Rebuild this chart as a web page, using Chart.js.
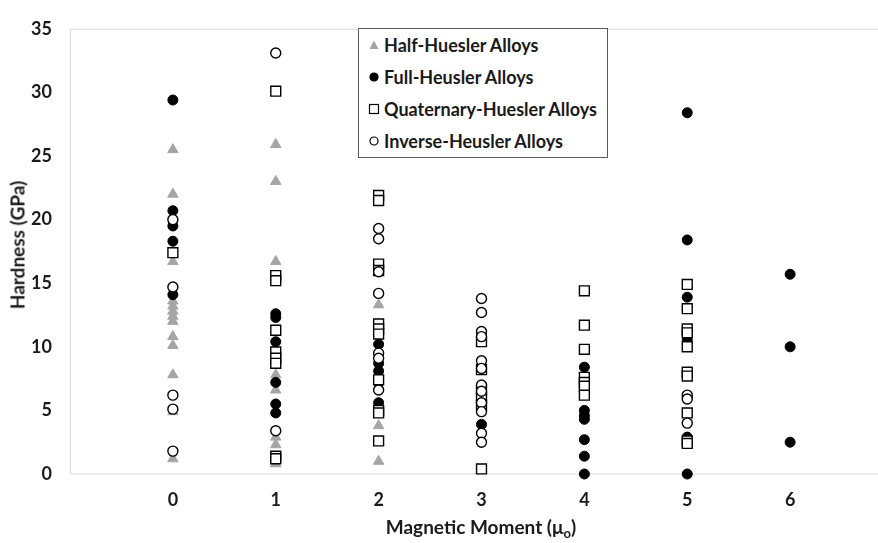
<!DOCTYPE html>
<html>
<head>
<meta charset="utf-8">
<script src="https://cdn.jsdelivr.net/npm/chart.js@4/dist/chart.umd.min.js"></script>
<style>
  html, body { margin: 0; padding: 0; background: #fff; overflow: hidden; }
  #wrap { position: relative; width: 878px; height: 543px; overflow: hidden; }
  #chart { position: absolute; left: 0; top: 0; }
  .lbl { font-family: Lato, "Open Sans", sans-serif; font-weight: 700; color: #1a1a1a; white-space: nowrap; }
  #xtitle { position: absolute; left: 0; width: 962px; top: 515px; text-align: center; font-size: 19px; }
  #xtitle sub { font-size: 13px; vertical-align: -4px; line-height: 0; }
  #ytitle { position: absolute; left: 17px; top: 245px; transform: translate(-50%, -50%) rotate(-90deg); font-size: 19px; }
  #legend { position: absolute; left: 358px; top: 28px; background: #fff; border: 1px solid #595959;
            padding: 0 10px 0 9px; font-size: 18px; }
  #legend .row { height: 32px; display: flex; align-items: center; }
  #legend svg { margin-right: 4px; flex: none; }
</style>
</head>
<body>
<div id="wrap">
  <canvas id="chart" width="910" height="543"></canvas>
  <div id="ytitle" class="lbl"></div>
  <div id="xtitle" class="lbl"></div>
  <div id="legend" class="lbl"></div>
</div>
<script>
// Hardness (GPa) against magnetic moment, one [moment, hardness] pair per alloy
const halfHeusler = [
  [0, 25.5], [0, 22.0], [0, 16.7], [0, 13.6], [0, 13.2], [0, 12.8], [0, 12.4], [0, 12.0],
  [0, 10.8], [0, 10.1], [0, 7.8], [0, 4.9], [0, 1.2],
  [1, 25.9], [1, 23.0], [1, 16.7], [1, 7.8], [1, 6.6], [1, 2.9], [1, 2.3], [1, 0.8],
  [2, 13.3], [2, 5.3], [2, 3.8], [2, 1.0]
];
const fullHeusler = [
  [0, 29.4], [0, 20.7], [0, 19.5], [0, 18.3], [0, 14.1],
  [1, 12.6], [1, 12.3], [1, 10.4], [1, 7.2], [1, 5.5], [1, 4.8],
  [2, 10.2], [2, 8.7], [2, 8.1], [2, 7.2], [2, 5.6],
  [3, 6.4], [3, 3.9],
  [4, 8.4], [4, 5.0], [4, 4.6], [4, 4.3], [4, 2.7], [4, 1.4], [4, 0.0],
  [5, 28.4], [5, 18.4], [5, 13.9], [5, 10.9], [5, 10.5], [5, 6.0], [5, 2.9], [5, 0.0],
  [6, 15.7], [6, 10.0], [6, 2.5]
];
const quaternaryHeusler = [
  [0, 17.4],
  [1, 30.1], [1, 15.6], [1, 15.2], [1, 11.3], [1, 9.6], [1, 9.1], [1, 8.7], [1, 1.4], [1, 1.2],
  [2, 21.9], [2, 21.5], [2, 16.5], [2, 16.0], [2, 11.8], [2, 11.4], [2, 11.0], [2, 7.4], [2, 5.0], [2, 4.8], [2, 2.6],
  [3, 10.4], [3, 8.2], [3, 6.6], [3, 6.0], [3, 5.4], [3, 0.4],
  [4, 14.4], [4, 11.7], [4, 9.8], [4, 7.6], [4, 7.2], [4, 6.9], [4, 6.2],
  [5, 14.9], [5, 13.0], [5, 11.4], [5, 11.1], [5, 10.0], [5, 8.0], [5, 7.7], [5, 4.8], [5, 2.6], [5, 2.4]
];
const inverseHeusler = [
  [0, 20.0], [0, 14.7], [0, 6.2], [0, 5.1], [0, 1.8],
  [1, 33.1], [1, 3.4],
  [2, 19.3], [2, 18.5], [2, 15.9], [2, 14.2], [2, 9.5], [2, 9.1], [2, 6.6],
  [3, 13.8], [3, 12.7], [3, 11.2], [3, 10.8], [3, 8.9], [3, 8.3], [3, 7.0], [3, 6.5], [3, 5.6], [3, 4.9], [3, 3.2], [3, 2.5],
  [5, 6.2], [5, 5.9], [5, 4.0]
];

const seriesNames = ['Half-Huesler Alloys', 'Full-Heusler Alloys', 'Quaternary-Huesler Alloys', 'Inverse-Heusler Alloys'];
const momentTicks = [0, 1, 2, 3, 4, 5, 6];
const hardnessTicks = [0, 5, 10, 15, 20, 25, 30, 35];

const FONT = { family: 'Lato, "Open Sans", sans-serif', weight: 'bold', size: 18 };
const TEXT = '#1a1a1a';

// Marker look for each series, in the same order as seriesNames
const markers = [
  { shape: 'triangle', radius: 6, fill: '#a5a5a5', stroke: '#a5a5a5', width: 1 },
  { shape: 'circle', radius: 5, fill: '#000000', stroke: '#000000', width: 1 },
  { shape: 'rect', radius: 7, fill: '#ffffff', stroke: '#000000', width: 1.4 },
  { shape: 'circle', radius: 5, fill: '#ffffff', stroke: '#000000', width: 1.4 }
];
const seriesData = [halfHeusler, fullHeusler, quaternaryHeusler, inverseHeusler];

const datasets = seriesData.map((pairs, i) => ({
  label: seriesNames[i],
  data: pairs.map(p => ({ x: p[0], y: p[1] })),
  pointStyle: markers[i].shape,
  pointRadius: markers[i].radius,
  pointBackgroundColor: markers[i].fill,
  pointBorderColor: markers[i].stroke,
  pointBorderWidth: markers[i].width,
  showLine: false,
  clip: false,
  order: seriesData.length - i   // later series are painted on top
}));

// light frame round the plotting area
const frame = {
  id: 'frame',
  beforeDatasetsDraw(chart) {
    const a = chart.chartArea, c = chart.ctx;
    c.save();
    c.strokeStyle = '#d9d9d9';
    c.lineWidth = 1;
    c.strokeRect(a.left + 0.5, a.top + 0.5, a.right - a.left, a.bottom - a.top - 0.5);
    c.restore();
  }
};

new Chart(document.getElementById('chart'), {
  type: 'scatter',
  data: { datasets },
  options: {
    responsive: false,
    animation: false,
    events: [],
    layout: { padding: { top: 17, right: 17, left: 0, bottom: 0 } },
    plugins: { legend: { display: false }, tooltip: { enabled: false } },
    scales: {
      x: {
        type: 'linear', min: -1, max: 7,
        afterBuildTicks(s) { s.ticks = [-1, ...momentTicks, 7].map(v => ({ value: v })); },
        ticks: {
          callback: v => momentTicks.includes(v) ? String(v) : '',
          font: FONT, color: TEXT, padding: 15, maxRotation: 0, autoSkip: false
        },
        grid: { display: false, drawTicks: false },
        border: { display: false },
        afterFit(s) { s.height = 69; }
      },
      y: {
        type: 'linear', min: 0, max: 35,
        afterBuildTicks(s) { s.ticks = hardnessTicks.map(v => ({ value: v })); },
        ticks: { font: FONT, color: TEXT, padding: 18 },
        grid: { display: false, drawTicks: false },
        border: { display: false },
        afterFit(s) { s.width = 70; }
      }
    }
  },
  plugins: [frame]
});

// axis titles
document.getElementById('ytitle').textContent = 'Hardness (GPa)';
document.getElementById('xtitle').innerHTML = 'Magnetic Moment (\u03bc<sub>o</sub>)';

// legend rows with small marker glyphs
function markerSvg(m) {
  const s = 12, c = s / 2;
  let shape;
  if (m.shape === 'triangle') {
    shape = `<polygon points="${c},1.5 ${s - 1.5},${s - 2} 1.5,${s - 2}" fill="${m.fill}"/>`;
  } else if (m.shape === 'rect') {
    shape = `<rect x="1.5" y="1.5" width="9" height="9" fill="${m.fill}" stroke="${m.stroke}" stroke-width="1.2"/>`;
  } else {
    shape = `<circle cx="${c}" cy="${c}" r="4" fill="${m.fill}" stroke="${m.stroke}" stroke-width="1.2"/>`;
  }
  return `<svg width="${s}" height="${s}" viewBox="0 0 ${s} ${s}">${shape}</svg>`;
}
document.getElementById('legend').innerHTML = seriesNames
  .map((n, i) => `<div class="row">${markerSvg(markers[i])}<span>${n}</span></div>`)
  .join('');
</script>
</body>
</html>
